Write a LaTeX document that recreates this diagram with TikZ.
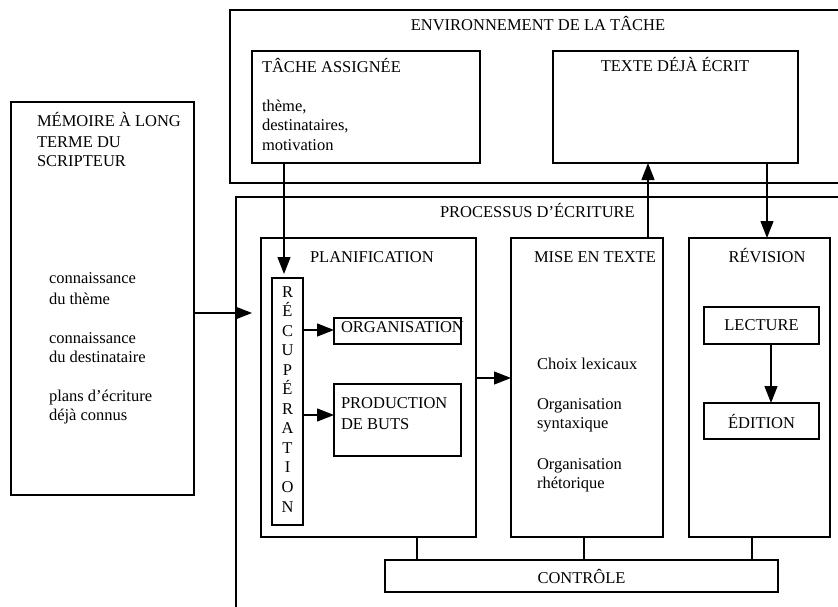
\documentclass[tikz,border=0pt]{standalone}
\usepackage{fontspec}
\setmainfont{Liberation Serif}
\usetikzlibrary{arrows.meta,calc}
\begin{document}
\begin{tikzpicture}[x=1pt,y=-1pt,
  box/.style={draw, line width=1.3pt, rectangle, inner sep=0pt, outer sep=0pt, anchor=north west, font=\fontsize{16.5}{20}\selectfont},
  lbl/.style={font=\fontsize{16.5}{20}\selectfont, inner sep=0pt, outer sep=0pt, anchor=base west},
  clbl/.style={lbl, anchor=base},
  arr/.style={line width=1.3pt, -{Triangle[length=17pt,width=13pt]}},
  ln/.style={line width=1.3pt}]
\useasboundingbox (0,0) rectangle (838,607);

% ---- task environment (right side runs off the picture) ----
\draw[ln] (838,10) -- (230,10) -- (230,183) -- (838,183);
\node[box, minimum width=228pt, minimum height=112pt] (tache) at (252,51) {};
\node[box, minimum width=245pt, minimum height=112pt] (texte) at (553,51) {};
\node[clbl] (envt) at (538,31) {ENVIRONNEMENT DE LA TÂCHE};
\node[lbl] (tachet) at (262,73) {TÂCHE ASSIGNÉE};
\node[lbl] (ta1) at (262,112) {thème,};
\node[lbl] (ta2) at (262,131) {destinataires,};
\node[lbl] (ta3) at (262,151) {motivation};
\node[clbl] (textet) at (675,72) {TEXTE DÉJÀ ÉCRIT};

% ---- long-term memory ----
\node[box, minimum width=183pt, minimum height=393pt] (mem) at (11,102) {};
\node[lbl] (m1) at (37,127) {MÉMOIRE À LONG};
\node[lbl] (m2) at (37,147) {TERME DU};
\node[lbl] (m3) at (37,167) {SCRIPTEUR};
\node[lbl] (m4) at (49,283) {connaissance};
\node[lbl] (m5) at (49,304) {du thème};
\node[lbl] (m6) at (49,343) {connaissance};
\node[lbl] (m7) at (49,362) {du destinataire};
\node[lbl] (m8) at (49,401) {plans d’écriture};
\node[lbl] (m9) at (49,420) {déjà connus};

% ---- writing process (open frame) ----
\draw[ln] (838,197) -- (236,197) -- (236,607);
\node[lbl] (proct) at (440,217) {PROCESSUS D’ÉCRITURE};

% planning
\node[box, minimum width=215pt, minimum height=299pt] (planif) at (261,238) {};
\node[lbl] (planift) at (310,262) {PLANIFICATION};
\node[box, minimum width=31pt, minimum height=247pt] (recup) at (272,278) {};
\foreach \l [count=\i from 0] in {R,É,C,U,P,É,R,A,T,I,O,N}
  \node[clbl] (r\i) at (287.5,297+19.55*\i) {\l};
\node[box, minimum width=127pt, minimum height=26pt] (organ) at (334,318) {};
\node[lbl] (organt) at (341,332) {ORGANISATION};
\node[box, minimum width=127pt, minimum height=72pt] (prod) at (334,384) {};
\node[lbl] (prodt1) at (341,408) {PRODUCTION};
\node[lbl] (prodt2) at (341,429) {DE BUTS};

% translating
\node[box, minimum width=152pt, minimum height=299pt] (mise) at (511,238) {};
\node[lbl] (miset) at (534,262) {MISE EN TEXTE};
\node[lbl] (mi1) at (537,369) {Choix lexicaux};
\node[lbl] (mi2) at (537,409) {Organisation};
\node[lbl] (mi3) at (537,428) {syntaxique};
\node[lbl] (mi4) at (537,469) {Organisation};
\node[lbl] (mi5) at (537,488) {rhétorique};

% reviewing
\node[box, minimum width=141pt, minimum height=299pt] (revis) at (689,238) {};
\node[clbl] (revist) at (767,262) {RÉVISION};
\node[box, minimum width=115pt, minimum height=37pt] (lect) at (704,307) {LECTURE};
\node[box, minimum width=115pt, minimum height=36pt] (edit) at (704,403) {ÉDITION};

% monitor
\node[box, minimum width=393pt, minimum height=32pt] (ctrl) at (385,560) {CONTRÔLE};

% ---- helper coordinates ----
\coordinate (xa) at (284,0);
\coordinate (xup) at (648,0);
\coordinate (xdn) at (767,0);
\coordinate (xle) at (771,0);
\coordinate (ymem) at (0,313);
\coordinate (memin) at (252,313);
\coordinate (yorg) at (0,330);
\coordinate (yprod) at (0,415);
\coordinate (ypm) at (0,378);
\coordinate (xc1) at (417,0);
\coordinate (xc2) at (584,0);
\coordinate (xc3) at (752,0);
\coordinate (rtop) at (284,274);

% ---- connectors ----
\draw[arr] (tache.south -| xa) -- (rtop);
\draw[arr] (mem.east |- ymem) -- (memin);
\draw[arr] (recup.east |- yorg) -- (organ.west |- yorg);
\draw[arr] (recup.east |- yprod) -- (prod.west |- yprod);
\draw[arr] (planif.east |- ypm) -- (mise.west |- ypm);
\draw[arr] (mise.north -| xup) -- (texte.south -| xup);
\draw[arr] (texte.south -| xdn) -- (revis.north -| xdn);
\draw[arr] (lect.south -| xle) -- (edit.north -| xle);
\draw[ln] (planif.south -| xc1) -- (ctrl.north -| xc1);
\draw[ln] (mise.south -| xc2) -- (ctrl.north -| xc2);
\draw[ln] (revis.south -| xc3) -- (ctrl.north -| xc3);
\end{tikzpicture}
\end{document}
